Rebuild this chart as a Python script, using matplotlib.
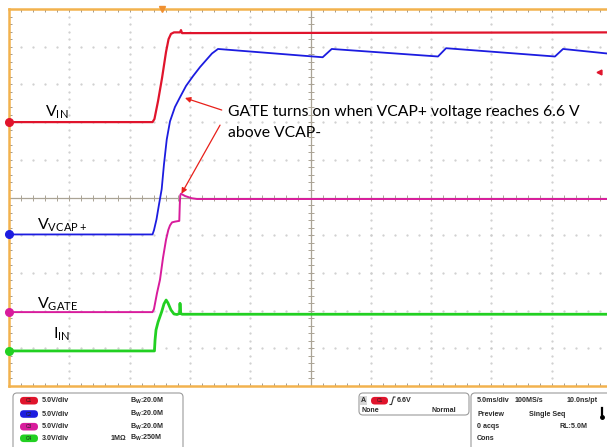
import matplotlib
matplotlib.use('Agg')
from matplotlib import pyplot as plt
from matplotlib.patches import FancyBboxPatch, Rectangle
import numpy as np

plt.rcParams['mathtext.fontset'] = 'custom'
plt.rcParams['mathtext.rm'] = 'Lato'
plt.rcParams['mathtext.default'] = 'regular'

# scope settings: 10 x 10 divisions, 5 ms/div
ms_per_div = 5.0
vin_scale, vin_pos = 5.0, 2.0
vcap_scale, vcap_pos = 5.0, -0.98
vgate_scale, vgate_pos = 5.0, -3.04
iin_scale, iin_pos = 3.0, -4.07
trig_level = 6.6  # V on C1
trig_time = 12.72  # ms from left edge

# traces (time in ms from left edge of screen)
vin_t = [0, 11.90, 12.06, 12.36, 12.69, 13.02, 13.23, 13.43, 13.68, 14.18, 14.26, 14.35, 49.6]
vin_v = [0, 0, 0.41, 2.8, 5.85, 9.3, 11.0, 11.7, 11.9, 11.9, 12.2, 11.8, 11.9]

vcap_t = [0, 11.90, 12.02, 12.23, 12.44, 12.66, 12.85, 13.08, 13.35, 13.76, 14.18, 14.68,
          15.26, 15.84, 16.39, 16.83, 17.33, 26.01, 26.76, 35.57, 36.24, 45.27, 45.94, 49.6]
vcap_v = [0, 0, 0.56, 2.0, 4.0, 6.0, 9.3, 12.6, 15.0, 16.9, 18.2, 19.7,
          21.0, 22.2, 23.2, 24.0, 24.6, 23.5, 24.6, 23.6, 24.7, 23.6, 24.6, 24.0]

vgate_t = [0, 11.90, 12.02, 12.27, 12.52, 12.77, 13.02, 13.21, 13.35, 13.52, 13.76, 14.12,
           14.16, 14.20, 14.26, 14.59, 15.15, 15.59, 49.6]
vgate_v = [0, 0, 0.4, 2.5, 4.3, 7.2, 9.6, 10.9, 11.5, 11.9, 12.0, 12.1,
           14.2, 15.5, 15.7, 15.4, 15.1, 15.0, 15.0]

iin_t = [0, 12.06, 12.11, 12.19, 12.36, 12.66, 12.85, 13.03, 13.18, 13.43, 13.68, 13.93,
         14.14, 14.18, 14.24, 14.35, 49.6]
iin_a = [0, 0, 0.87, 1.67, 2.30, 3.12, 3.74, 4.05, 3.82, 3.26, 2.94, 2.90,
         2.98, 3.79, 2.98, 2.92, 2.92]

# readout panel text
ch_names = ['C1', 'C2', 'C3', 'C4']
ch_colors = ['#e0142c', '#1c1ce0', '#d81c9c', '#22d022']
ch_vdiv = ['5.0V/div', '5.0V/div', '5.0V/div', '3.0V/div']
ch_bw = ['B$_W$:20.0M', 'B$_W$:20.0M', 'B$_W$:20.0M', 'B$_W$:250M']
ch_imp = ['', '', '', '1MΩ']

def to_div(vals, scale, pos):
    return np.array(vals) / scale + pos

fig = plt.figure(figsize=(6.07, 4.47), dpi=100)
ax = fig.add_axes([9 / 607, 61 / 447, 603 / 607, 377 / 447])
ax.set_xlim(0, 10 * ms_per_div)
ax.set_ylim(-5, 5)

for s in ax.spines.values():
    s.set_color('#f2b24e')
    s.set_linewidth(1.8)
ax.set_xticks(np.arange(0, 50.01, 1))
ax.set_yticks(np.arange(-5, 5.01, 0.2))
ax.tick_params(direction='in', length=2.5, width=0.7, color='#a09a90',
               top=True, bottom=True, left=True, right=False,
               labelbottom=False, labelleft=False)

# graticule
grid_c = '#cdcdcd'
minor_x = np.arange(0, 50, 1)
minor_y = np.arange(-5, 5, 0.2)
for xg in np.arange(5, 50, 5):
    if xg != 25:
        ax.plot(np.full(minor_y.size, xg), minor_y, ls='none', marker='.', ms=1.2, color=grid_c)
for yg in np.arange(-4, 5, 1):
    if yg != 0:
        ax.plot(minor_x, np.full(minor_x.size, yg), ls='none', marker='.', ms=1.2, color=grid_c)
ax.axhline(0, color='#aaa395', lw=0.9)
ax.axvline(25, color='#aaa395', lw=0.9)
ax.plot(minor_x, np.zeros(minor_x.size), ls='none', marker='|', ms=4, mew=0.7, color='#aaa395')
ax.plot(np.full(minor_y.size, 25), minor_y, ls='none', marker='_', ms=4, mew=0.7, color='#aaa395')

# waveforms
ax.plot(vin_t, to_div(vin_v, vin_scale, vin_pos), color=ch_colors[0], lw=1.6)
ax.plot(vcap_t, to_div(vcap_v, vcap_scale, vcap_pos), color=ch_colors[1], lw=1.3)
ax.plot(vgate_t, to_div(vgate_v, vgate_scale, vgate_pos), color=ch_colors[2], lw=1.4)
ax.plot(iin_t, to_div(iin_a, iin_scale, iin_pos), color=ch_colors[3], lw=2.0)

# ground markers, trigger markers
for c, p in zip(ch_colors, [vin_pos, vcap_pos, vgate_pos, iin_pos]):
    ax.plot(0, p, marker='o', ms=5.5, color=c, clip_on=False, zorder=5)
ax.plot(48.95, trig_level / vin_scale + vin_pos, marker='<', ms=3.5, color=ch_colors[0], clip_on=False)
ax.plot(trig_time, 5, marker='v', ms=5, color='#f09030', clip_on=False, zorder=5)

# labels
lab = dict(family='Lato', fontsize=11.5, color='black')
ax.text(2.95, 2.14, 'V$_{IN}$', va='baseline', **lab)
ax.text(2.32, -0.84, 'V$_{VCAP+}$', va='baseline', **lab)
ax.text(2.35, -2.96, 'V$_{GATE}$', va='baseline', **lab)
ax.text(3.67, -3.75, 'I$_{IN}$', va='baseline', **lab)

ax.text(18.16, 2.16, 'GATE turns on when VCAP+ voltage reaches 6.6 V',
        va='baseline', family='Lato', fontsize=11.3)
ax.text(18.16, 1.60, 'above VCAP-', va='baseline', family='Lato', fontsize=11.3)
arr = dict(arrowstyle='-|>', color='#e8201a', lw=0.9, mutation_scale=8, shrinkA=0, shrinkB=0)
ax.annotate('', xy=(14.59, 2.64), xytext=(17.64, 2.32), arrowprops=arr)
ax.annotate('', xy=(14.30, 0.10), xytext=(17.50, 1.92), arrowprops=arr)

# readout panel (pixel coordinates)
pn = fig.add_axes([0, 0, 1, 1], zorder=-1)
pn.set_xlim(0, 607)
pn.set_ylim(447, 0)
pn.axis('off')
txt = dict(family='Liberation Sans', fontweight='bold', fontsize=5.1, color='#2a2a2a', va='center')
box = dict(boxstyle='round,pad=0,rounding_size=4', ec='#9c9c9c', fc='white', lw=0.8)

pn.add_patch(FancyBboxPatch((13, 393), 170, 62, **box))
rows = [400.7, 414, 426.7, 438.3]
for y, name, c, vd, bw, imp in zip(rows, ch_names, ch_colors, ch_vdiv, ch_bw, ch_imp):
    pn.add_patch(FancyBboxPatch((20, y - 3.8), 18, 7.6, boxstyle='round,pad=0,rounding_size=3.8',
                                fc=c, ec='none'))
    pn.text(29, y, name, ha='center', family='Liberation Sans', fontsize=3.5, color='#202020', va='center')
    pn.text(42, y, vd, **txt)
    pn.text(130, y, bw, **txt)
    if imp:
        pn.text(111, y, imp, **txt)

pn.add_patch(FancyBboxPatch((359, 393), 110, 22, **box))
pn.add_patch(Rectangle((360, 396), 7, 9, fc='#d6d6d6', ec='none'))
pn.text(363.5, 400.7, 'A', ha='center', **txt)
pn.add_patch(FancyBboxPatch((371, 396.9), 17, 7.6, boxstyle='round,pad=0,rounding_size=3.8',
                            fc=ch_colors[0], ec='none'))
pn.text(379.5, 400.7, 'C1', ha='center', family='Liberation Sans', fontsize=3.5, color='#202020', va='center')
pn.plot([390, 391.5, 393.5, 395], [404.5, 404.5, 397, 397], color='#333333', lw=0.8)
pn.text(397, 400.7, '6.6V', **txt)
pn.text(361, 410.7, 'None', **txt)
pn.text(431, 410.7, 'Normal', **txt)

pn.add_patch(FancyBboxPatch((471, 393), 150, 62, **box))
pn.text(477, 400.7, '5.0ms/div', **txt)
pn.text(515, 400.7, '100MS/s', **txt)
pn.text(567, 400.7, '10.0ns/pt', **txt)
pn.text(477, 414, 'Preview', **txt)
pn.text(529, 414, 'Single Seq', **txt)
pn.text(477, 426.7, '0 acqs', **txt)
pn.text(559, 426.7, 'RL:5.0M', **txt)
pn.text(477, 438.3, 'Cons', **txt)
pn.plot([601.5, 601.5], [408, 416], color='black', lw=1.6)
pn.plot(601.5, 416.5, marker='o', ms=2.5, color='black')

fig.savefig('out.png', dpi=100)
